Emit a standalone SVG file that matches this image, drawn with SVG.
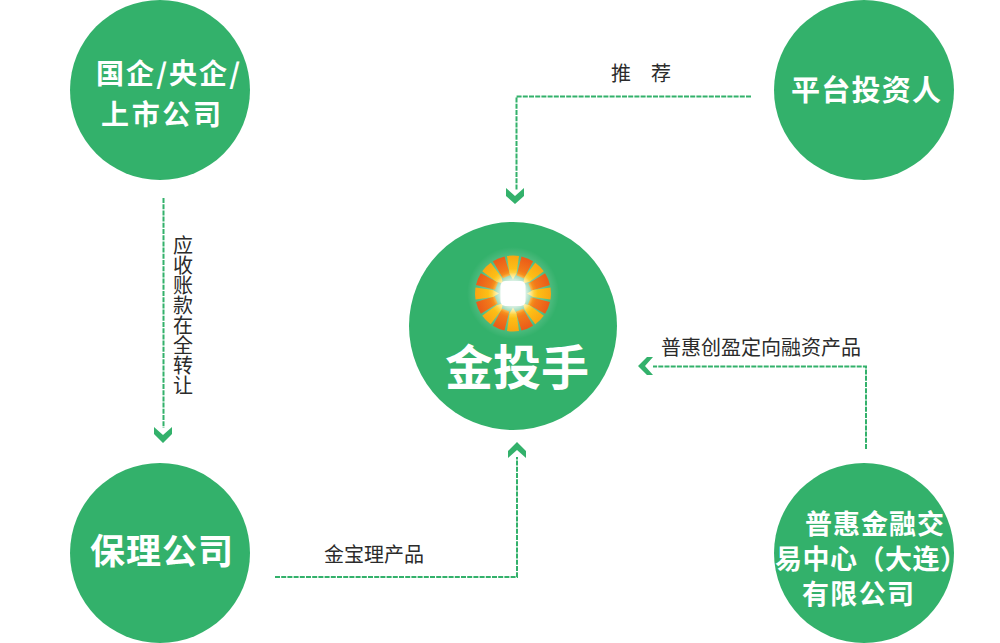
<svg xmlns="http://www.w3.org/2000/svg" width="1000" height="643" viewBox="0 0 1000 643">
<style>
.n{fill:#33b16b}
.t{fill:#fff;font-family:"Noto Sans CJK SC","Liberation Sans",sans-serif;font-weight:700}
.l{fill:#2b2b2b;font-family:"Noto Sans CJK SC","Liberation Sans",sans-serif;font-size:20px;font-weight:400}
.c{fill:none;stroke:#33b16b;stroke-width:2;stroke-dasharray:5 1.2}
.a{fill:#33b16b}
</style>
<defs>
<radialGradient id="glow"><stop offset="0.3" stop-color="#fff"/><stop offset="0.6" stop-color="#fff" stop-opacity="0.7"/><stop offset="1" stop-color="#fff" stop-opacity="0"/></radialGradient>
<linearGradient id="y" x1="0" y1="0" x2="0" y2="1"><stop offset="0" stop-color="#f9a512"/><stop offset="0.55" stop-color="#fdbf16"/><stop offset="1" stop-color="#fff08a"/></linearGradient>
<linearGradient id="r" x1="0" y1="0" x2="0" y2="1"><stop offset="0" stop-color="#ea5a18"/><stop offset="0.7" stop-color="#f27a1a"/><stop offset="1" stop-color="#f9a41e"/></linearGradient>
<path id="py" d="M-6-37.500A38 38 0 0 1 6-37.500L3.500-20L0-14L-3.500-20Z" fill="url(#y)"/>
<path id="pr" d="M-6.300-37.400A38 38 0 0 1 6.300-37.400L4.500-18H-3.500Z" fill="url(#r)"/>
</defs>
<g id="connectors">
<path class="c" d="M751 96.500H516.500V190"/>
<path class="a" d="M506 188l9 8 9-8v8l-9 8-9-8z"/>
<path class="c" d="M163.500 198V428"/>
<path class="a" d="M154 427l9 8 9-8v7l-9 9-9-9z"/>
<path class="c" d="M275 577H517V457"/>
<path class="a" d="M508 458v-7l9-9 9 9v7l-9-8z"/>
<path class="c" d="M866 449V366.500H653"/>
<path class="a" d="M653 357h-6l-9 9 9 9h6l-8-9z"/>
</g>
<g id="node-soe"><circle class="n" cx="160" cy="90" r="90"/>
<text class="t" font-size="28" x="96" y="84" textLength="144">国企/央企/</text>
<text class="t" font-size="28" x="101" y="125" textLength="120">上市公司</text></g>
<g id="node-investor"><circle class="n" cx="864" cy="90" r="90"/>
<text class="t" font-size="29" x="791" y="101" textLength="150">平台投资人</text></g>
<g id="node-factoring"><circle class="n" cx="160" cy="553" r="90"/>
<text class="t" font-size="35" x="90" y="564" textLength="143">保理公司</text></g>
<g id="node-exchange"><circle class="n" cx="864" cy="553" r="90"/>
<text class="t" font-size="27" x="805" y="534" textLength="139">普惠金融交</text>
<text class="t" font-size="27" x="775 802.500 830 857.500 885 912.500 940" y="569">易中心（大连）</text>
<text class="t" font-size="27" x="802" y="604" textLength="112">有限公司</text></g>
<g id="node-jintoushou"><circle class="n" cx="513" cy="326" r="104"/>
<circle cx="513" cy="293" r="46" fill="url(#glow)" opacity="0.4"/>
<g transform="translate(513 293.500)">
<use href="#pr" transform="rotate(22.500)"/><use href="#pr" transform="rotate(67.500)"/><use href="#pr" transform="rotate(112.500)"/><use href="#pr" transform="rotate(157.500)"/><use href="#pr" transform="rotate(202.500)"/><use href="#pr" transform="rotate(247.500)"/><use href="#pr" transform="rotate(292.500)"/><use href="#pr" transform="rotate(337.500)"/>
<use href="#py"/><use href="#py" transform="rotate(45)"/><use href="#py" transform="rotate(90)"/><use href="#py" transform="rotate(135)"/><use href="#py" transform="rotate(180)"/><use href="#py" transform="rotate(225)"/><use href="#py" transform="rotate(270)"/><use href="#py" transform="rotate(315)"/>
<circle r="21" fill="url(#glow)"/>
<rect x="-12.500" y="-12.500" width="25" height="25" rx="5" fill="#fff"/>
</g>
<text class="t" font-size="48" x="445" y="385" textLength="144">金投手</text></g>
<g id="labels">
<text class="l" x="611" y="81">推</text>
<text class="l" x="651" y="81">荐</text>
<text class="l" x="661" y="355" textLength="200">普惠创盈定向融资产品</text>
<text class="l" x="324" y="562" textLength="100">金宝理产品</text>
<text class="l" x="183" y="235" style="writing-mode:vertical-rl">应收账款在全转让</text>
</g>
</svg>
